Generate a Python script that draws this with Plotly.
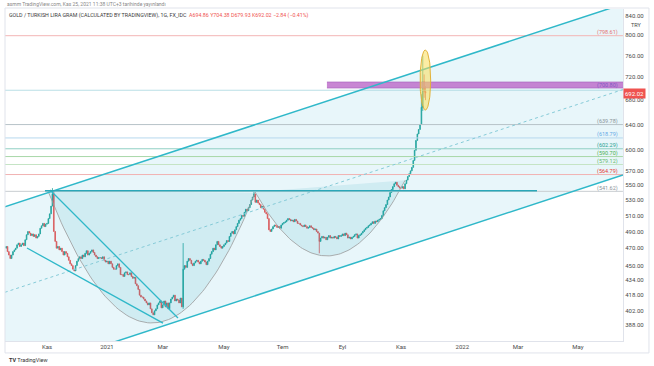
import numpy as np
import pandas as pd
import plotly.graph_objects as go

# ---------------- data ----------------
start_date = "2020-09-21"
# daily closes (business days), one row per week
closes = [
    472, 466, 462, 458, 462,   # Sep 21 2020
    466, 468, 470, 474, 476,   # Sep 28
    472, 474, 476, 473, 480,   # Oct 5
    486, 490, 488, 485, 487,   # Oct 12
    484, 486, 482, 484, 487,   # Oct 19
    494, 497, 500, 496, 499,   # Oct 26
    500, 506, 512, 522, 538,   # Nov 2
    490, 478, 470, 472, 468,   # Nov 9
    470, 466, 462, 466, 464,   # Nov 16
    460, 456, 452, 450, 446,   # Nov 23
    444, 450, 455, 458, 460,   # Nov 30
    458, 462, 460, 464, 467,   # Dec 7
    462, 464, 466, 468, 465,   # Dec 14
    462, 460, 458, 459, 459,   # Dec 21
    458, 460, 456, 454, 455,   # Dec 28
    452, 455, 452, 448, 446,   # Jan 4 2021
    446, 450, 452, 448, 440,   # Jan 11
    440, 438, 442, 443, 440,   # Jan 18
    440, 442, 438, 436, 437,   # Jan 25
    430, 428, 424, 418, 416,   # Feb 1
    416, 414, 412, 410, 408,   # Feb 8
    410, 404, 400, 398, 402,   # Feb 15
    404, 408, 410, 412, 405,   # Feb 22
    408, 412, 406, 410, 404,   # Mar 1
    410, 414, 416, 418, 412,   # Mar 8
    414, 413, 410, 415, 406,   # Mar 15
    446, 450, 448, 455, 458,   # Mar 22
    456, 452, 450, 453, 455,   # Mar 29
    456, 454, 452, 455, 457,   # Apr 5
    456, 454, 451, 455, 458,   # Apr 12
    463, 466, 470, 468, 474,   # Apr 19
    478, 474, 472, 470, 472,   # Apr 26
    474, 476, 479, 478, 484,   # May 3
    488, 490, 487, 492, 496,   # May 10
    500, 504, 506, 510, 509,   # May 17
    514, 518, 516, 520, 524,   # May 24
    530, 534, 538, 527, 530,   # May 31
    526, 524, 520, 522, 518,   # Jun 7
    514, 512, 506, 492, 490,   # Jun 14
    493, 496, 498, 497, 495,   # Jun 21
    496, 494, 498, 500, 501,   # Jun 28
    502, 504, 506, 505, 503,   # Jul 5
    504, 502, 505, 503, 500,   # Jul 12
    500, 498, 497, 496, 498,   # Jul 19
    496, 494, 495, 497, 495,   # Jul 26
    494, 492, 493, 490, 488,   # Aug 2
    478, 482, 484, 482, 483,   # Aug 9
    480, 483, 485, 482, 483,   # Aug 16
    482, 484, 483, 481, 485,   # Aug 23
    484, 485, 487, 485, 488,   # Aug 30
    486, 482, 483, 481, 483,   # Sep 6
    484, 486, 487, 482, 485,   # Sep 13
    486, 488, 490, 492, 494,   # Sep 20
    495, 497, 498, 500, 502,   # Sep 27
    500, 503, 502, 504, 505,   # Oct 4
    506, 510, 516, 520, 524,   # Oct 11
    530, 534, 540, 544, 548,   # Oct 18
    552, 554, 550, 548, 546,   # Oct 25
    546, 548, 545, 552, 557,   # Nov 1
    562, 566, 570, 575, 585,   # Nov 8
    600, 615, 625, 632, 640,   # Nov 15
    668, 712, 694.86, 692.02,  # Nov 22 2021
]
first_open = 470.0
wick_highs = {"2020-11-06": 546, "2020-11-09": 542, "2021-03-22": 476,
              "2021-06-02": 541, "2021-11-22": 690, "2021-11-23": 760,
              "2021-11-24": 725, "2021-11-25": 704.38}
wick_lows = {"2021-08-09": 464, "2021-11-23": 662, "2021-11-24": 684,
             "2021-11-25": 679.93, "2021-03-22": 404}

level_prices = [798.61, 639.78, 618.79, 602.29, 590.70, 579.12, 564.79, 541.62]
level_line_colors = ["#f3b5b5", "#b7c3c8", "#b6d8ee", "#8fcfc3", "#a8d8a8", "#c5e4c5", "#f1b2b2", "#c8cdd0"]
level_text_colors = ["#e57373", "#8a9499", "#64a8e6", "#26a08f", "#4caf50", "#66bb6a", "#e53935", "#8a9499"]
zone_low, zone_high, zone_start_bar = 700.80, 711.5, 235.6
last_price = 692.02

price_ticks = [388, 402, 418, 434, 450, 470, 490, 510, 530, 550, 570, 600, 640, 680, 720, 760, 800, 840]
month_tick_dates = ["2020-11-02", "2021-01-01", "2021-03-01", "2021-05-03", "2021-07-01",
                    "2021-09-01", "2021-11-01", "2022-01-03", "2022-03-01", "2022-05-02"]
month_tick_text = ["Kas", "2021", "Mar", "May", "Tem", "Eyl", "Kas", "2022", "Mar", "May"]

# drawings (bar index, price)
channel_upper = [(-1, 521.2), (453, 864.0)]
channel_lower = [(-1, 340.0), (453, 564.2)]
wedge_upper = [(32.2, 543.4), (126.2, 394.9)]
wedge_lower = [(15.3, 470.2), (115.2, 389.9)]
neckline = [(28.5, 542.5), (389.9, 542.5)]
cup1 = dict(start=30.7, end=182.8, vertex=(107.0, 390.0), rim=542.1)
cup2 = dict(start=182.8, end=293.0, vertex=(235.6, 461.0), rim=540.8)
ellipse = dict(center=(307.9, 715.0), rx=3.9, ry_ln=0.075)
price_line = 697.0

# ---------------- build ----------------
cal = pd.bdate_range(start_date, "2022-07-29")
n = len(closes)
xs = np.arange(n)
opens = [first_open] + closes[:-1]
highs = [max(o, c) for o, c in zip(opens, closes)]
lows = [min(o, c) for o, c in zip(opens, closes)]
for d, v in wick_highs.items():
    i = cal.get_loc(pd.Timestamp(d)); highs[i] = max(highs[i], v)
for d, v in wick_lows.items():
    i = cal.get_loc(pd.Timestamp(d)); lows[i] = min(lows[i], v)

def pos(d):
    return cal.get_loc(pd.Timestamp(d))

fig = go.Figure()

def seg(pts, color, width=1.0, dash=None):
    fig.add_trace(go.Scatter(x=[p[0] for p in pts], y=[p[1] for p in pts], mode="lines",
                             line=dict(color=color, width=width, dash=dash),
                             hoverinfo="skip", showlegend=False))

def cup_points(c):
    vx, vp = c["vertex"]
    k = (np.log(c["rim"]) - np.log(vp)) / (vx - c["start"]) ** 2
    t = np.linspace(c["start"], c["end"], 80)
    return t, np.exp(np.log(vp) + k * (t - vx) ** 2)

# channel fill
fig.add_trace(go.Scatter(
    x=[channel_upper[0][0], channel_upper[1][0], channel_lower[1][0], channel_lower[0][0]],
    y=[channel_upper[0][1], channel_upper[1][1], channel_lower[1][1], channel_lower[0][1]],
    fill="toself", fillcolor="rgba(0,150,200,0.09)", line=dict(width=0),
    mode="lines", hoverinfo="skip", showlegend=False))
# cup fills + arcs
for c in (cup1, cup2):
    t, p = cup_points(c)
    fig.add_trace(go.Scatter(x=t, y=p, fill="toself", fillcolor="rgba(0,150,180,0.10)",
                             line=dict(width=0), mode="lines", hoverinfo="skip", showlegend=False))
for c in (cup1, cup2):
    t, p = cup_points(c)
    seg(list(zip(t, p)), "#9a9a9a", 0.8)

# horizontal levels
for lp, lc in zip(level_prices, level_line_colors):
    seg([(-1, lp), (453, lp)], lc, 1.0)
seg([(-1, price_line), (453, price_line)], "#a6d6de", 0.8)

# zone band
fig.add_trace(go.Scatter(x=[zone_start_bar, 460, 460, zone_start_bar], y=[zone_low, zone_low, zone_high, zone_high],
                         fill="toself", fillcolor="rgba(186,104,200,0.8)", line=dict(color="#a35cba", width=0.6),
                         mode="lines", hoverinfo="skip", showlegend=False))

# channel lines
mid = [(channel_upper[0][0], np.sqrt(channel_upper[0][1] * channel_lower[0][1])),
       (channel_upper[1][0], np.sqrt(channel_upper[1][1] * channel_lower[1][1]))]
seg(channel_upper, "#2fb8c9", 1.5)
seg(channel_lower, "#2fb8c9", 1.5)
seg(mid, "#86cbd8", 1.0, "3px,3px")
seg(wedge_upper, "#2fb8c9", 1.3)
seg(wedge_lower, "#2fb8c9", 1.3)
seg(neckline, "#2aa7b8", 1.6)

fig.add_trace(go.Candlestick(
    x=xs, open=opens, high=highs, low=lows, close=closes,
    increasing=dict(line=dict(color="#26a69a", width=0.8), fillcolor="#26a69a"),
    decreasing=dict(line=dict(color="#ef5350", width=0.8), fillcolor="#ef5350"),
    whiskerwidth=0, hoverinfo="skip", showlegend=False))

# ellipse
tt = np.linspace(0, 2 * np.pi, 90)
ex = ellipse["center"][0] + ellipse["rx"] * np.cos(tt)
ey = np.exp(np.log(ellipse["center"][1]) + ellipse["ry_ln"] * np.sin(tt))
fig.add_trace(go.Scatter(x=ex, y=ey, fill="toself", fillcolor="rgba(250,222,90,0.55)",
                         line=dict(color="#e2b23a", width=1), mode="lines",
                         hoverinfo="skip", showlegend=False))

ymin, ymax = 372.84, 853.6
fig.update_layout(width=654, height=366, margin=dict(l=5, r=31, t=9, b=25),
                  paper_bgcolor="white", plot_bgcolor="white", showlegend=False,
                  font=dict(family="Roboto, Noto Sans, sans-serif", color="#4a4a4a"))
fig.update_xaxes(range=[-0.85, 453.06], tickvals=[pos(d) for d in month_tick_dates], ticktext=month_tick_text,
                 showgrid=False, zeroline=False, rangeslider_visible=False, ticks="",
                 tickfont=dict(size=6, color="#4a4a4a"), showline=True, linecolor="#e0e3eb", linewidth=1)
fig.update_yaxes(type="log", range=[np.log10(ymin), np.log10(ymax)], side="right",
                 tickvals=price_ticks, ticktext=[f"{v:.2f}" for v in price_ticks],
                 showgrid=False, zeroline=False, ticks="", tickfont=dict(size=6, color="#4a4a4a"),
                 showline=True, linecolor="#e0e3eb", linewidth=1)

ann = []
lbl_prices = level_prices + [zone_low]
lbl_colors = level_text_colors + ["#7e57c2"]
for lp, tc in zip(lbl_prices, lbl_colors):
    ann.append(dict(x=0.9951, xref="paper", xanchor="right", y=np.log10(lp), yref="y", yshift=3,
                    text=f"({lp:.2f})", showarrow=False, font=dict(size=5.5, color=tc)))
ann.append(dict(x=1.0, xref="paper", xanchor="left", y=np.log10(last_price), yref="y",
                text=f"{last_price:.2f}", showarrow=False, bgcolor="#ef5350",
                font=dict(size=6, color="white"), borderpad=1))
ann.append(dict(x=1.022, xref="paper", xanchor="center", y=0.966, yref="paper", text="TRY",
                showarrow=False, font=dict(size=5.5, color="#4a4a4a")))
ann.append(dict(x=0.0, xref="paper", xanchor="left", y=1.015, yref="paper", yanchor="middle",
                text="asmm TradingView.com, Kas 25, 2021 11:38 UTC+3 tarihinde yayınlandı",
                showarrow=False, font=dict(size=5, color="#888888")))
ann.append(dict(x=0.0032, xref="paper", xanchor="left", y=0.979, yref="paper", yanchor="middle",
                text=("GOLD / TURKISH LIRA GRAM (CALCULATED BY TRADINGVIEW), 1G, FX_IDC  "
                      "<span style='color:#ef5350'>A694.86 Y704.38 D679.93 K692.02 −2.84 (−0.41%)</span>"),
                showarrow=False, font=dict(size=5.3, color="#3a3a3a")))
ann.append(dict(x=0.003, xref="paper", xanchor="left", y=-0.057, yref="paper", yanchor="middle",
                text="<b>TV</b> TradingView", showarrow=False, font=dict(size=5.5, color="#333333")))
fig.update_layout(annotations=ann)

fig.add_shape(type="rect", xref="paper", yref="paper", x0=0, x1=1.042, y0=-0.036, y1=1.003,
              line=dict(color="#e0e3eb", width=1), fillcolor="rgba(0,0,0,0)", layer="above")

fig.write_html("out.html", config={"displayModeBar": False},
               post_script="document.body.style.margin='0';")
